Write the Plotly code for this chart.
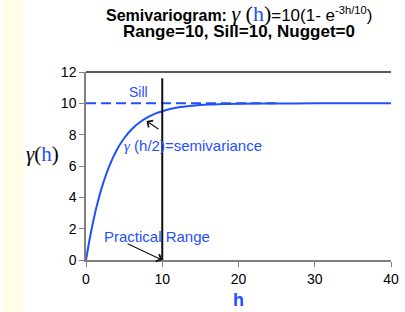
import plotly.graph_objects as go

# ---- data ----
h_vals = [0, 0.5, 1, 1.5, 2, 3, 4, 5, 6, 7, 8, 9, 10, 12, 14, 16, 18, 20, 25, 30, 35, 40]
gamma_vals = [0, 1.39, 2.59, 3.62, 4.51, 5.93, 6.99, 7.77, 8.35, 8.78, 9.09, 9.33, 9.50,
              9.73, 9.85, 9.92, 9.95, 9.98, 9.99, 10.0, 10.0, 10.0]
sill_x = [0, 25]
sill_y = [10, 10]
range_x = [10, 10]
range_y = [0, 11.6]
x_ticks = [0, 10, 20, 30, 40]
x_ticklabels = ["0", "10", "20", "30", "40"]
y_ticks = [0, 2, 4, 6, 8, 10, 12]
y_ticklabels = ["0", "2", "4", "6", "8", "10", "12"]

BLUE = "#1f50ff"
SERIF = "Liberation Serif, Times New Roman, serif"
SANS = "Liberation Sans, Arial, sans-serif"

fig = go.Figure()
fig.add_trace(go.Scatter(x=sill_x, y=sill_y, mode="lines",
                         line=dict(color=BLUE, width=2, dash="10px,5px"), hoverinfo="skip"))
fig.add_trace(go.Scatter(x=h_vals, y=gamma_vals, mode="lines", line_shape="spline",
                         line=dict(color=BLUE, width=2), hoverinfo="skip"))
fig.add_trace(go.Scatter(x=range_x, y=range_y, mode="lines",
                         line=dict(color="#111111", width=2), hoverinfo="skip", cliponaxis=False))

# left yellow strip and top frame
fig.add_shape(type="rect", xref="paper", yref="paper", x0=-86/313, x1=-64/313, y0=-1, y1=2,
              fillcolor="#fffde6", line_width=0, layer="below")
fig.add_shape(type="line", xref="paper", yref="paper", x0=0, x1=1, y0=1, y1=1,
              line=dict(color="#222222", width=1.5))

title1 = ("<b>Semivariogram: </b>"
          "<span style=\"font-family:Liberation Serif;font-size:22px\"><i>γ</i> (<span style=\"color:%s\">h</span>)</span>"
          "<span style=\"font-size:17px\">=10(1- e</span><sup style=\"font-size:10px\">-3h/10</sup><span style=\"font-size:17px\">)</span>") % BLUE

ann = []
ann.append(dict(xref="paper", yref="paper", x=0.5, y=1 + (72 - 13) / 188, showarrow=False,
                xanchor="center", yanchor="middle", text=title1,
                font=dict(family=SANS, size=16, color="#000000")))
ann.append(dict(xref="paper", yref="paper", x=0.5, y=1 + (72 - 32) / 188, showarrow=False,
                xanchor="center", yanchor="middle", text="<b>Range=10, Sill=10, Nugget=0</b>",
                font=dict(family=SANS, size=17, color="#000000")))
ann.append(dict(xref="paper", yref="paper", x=(41 - 86) / 313, y=(260 - 154) / 188, showarrow=False,
                xanchor="center", yanchor="middle",
                text="<i>γ</i>(<span style=\"color:%s\">h</span>)" % BLUE,
                font=dict(family=SERIF, size=21, color="#000000")))
ann.append(dict(xref="paper", yref="paper", x=0.5, y=-(300 - 260) / 188, showarrow=False,
                xanchor="center", yanchor="middle", text="<b>h</b>",
                font=dict(family=SANS, size=18, color=BLUE)))
ann.append(dict(x=6.9, y=10.75, showarrow=False, xanchor="center", yanchor="middle", text="Sill",
                font=dict(family=SANS, size=14, color=BLUE)))
ann.append(dict(x=4.7, y=7.34, showarrow=False, xanchor="left", yanchor="middle",
                text="<span style=\"font-family:Liberation Serif\"><i>γ</i></span> (h/2)=semivariance",
                font=dict(family=SANS, size=15, color=BLUE)))
ann.append(dict(x=2.1, y=1.53, showarrow=False, xanchor="left", yanchor="middle",
                text="Practical Range", font=dict(family=SANS, size=15, color=BLUE)))
ann.append(dict(x=7.94, y=8.87, ax=9.68, ay=8.3, axref="x", ayref="y", text="", showarrow=True,
                arrowhead=4, arrowsize=1.3, arrowwidth=1.2, arrowcolor="#111111"))
ann.append(dict(x=10, y=0, ax=5.27, ay=1.08, axref="x", ayref="y", text="", showarrow=True,
                arrowhead=4, arrowsize=1.3, arrowwidth=1.2, arrowcolor="#111111"))

fig.update_layout(
    width=405, height=312,
    margin=dict(l=86, r=6, t=72, b=52, pad=0),
    paper_bgcolor="#ffffff", plot_bgcolor="#ffffff",
    showlegend=False,
    annotations=ann,
    font=dict(family=SANS, size=12, color="#000000"),
)
fig.update_xaxes(range=[0, 40], tickvals=x_ticks, ticktext=x_ticklabels, showgrid=False,
                 zeroline=False, showline=True, linecolor="#808080", linewidth=1.5,
                 ticks="outside", ticklen=5, tickcolor="#808080", ticklabeloverflow="allow",
                 tickfont=dict(family=SANS, size=14, color="#000000"), fixedrange=True)
fig.update_yaxes(range=[0, 12], tickvals=y_ticks, ticktext=y_ticklabels, showgrid=False,
                 zeroline=False, showline=True, linecolor="#808080", linewidth=1.5,
                 ticks="outside", ticklen=5, tickcolor="#808080",
                 tickfont=dict(family=SANS, size=14, color="#000000"), fixedrange=True)

fig.write_html("out.html", config={"displayModeBar": False},
               post_script="document.body.style.margin='0';document.body.style.overflow='hidden';")
